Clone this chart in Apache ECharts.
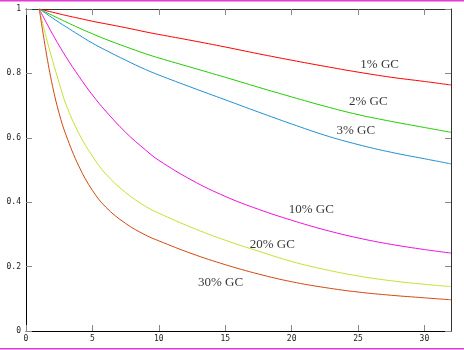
<!DOCTYPE html>
<html>
<head>
<meta charset="utf-8">
<script src="https://cdn.jsdelivr.net/npm/echarts@6/dist/echarts.min.js"></script>
<style>
html,body{margin:0;padding:0;background:#fff;}
#chart{width:464px;height:350px;}
</style>
</head>
<body>
<div id="chart"></div>
<script>
var xs = [1, 1.5, 2, 2.5, 3, 4, 5, 6, 7.5, 9, 10, 12.5, 15, 17.5, 20, 22.5, 25, 27.5, 30, 32];
var gc1  = [1, 0.995, 0.990, 0.985, 0.980, 0.971, 0.962, 0.954, 0.942, 0.929, 0.921, 0.902, 0.882, 0.861, 0.841, 0.822, 0.804, 0.788, 0.775, 0.764];
var gc2  = [1, 0.990, 0.980, 0.970, 0.960, 0.941, 0.923, 0.906, 0.883, 0.861, 0.848, 0.818, 0.788, 0.757, 0.727, 0.698, 0.672, 0.651, 0.632, 0.617];
var gc3  = [1, 0.986, 0.972, 0.958, 0.945, 0.919, 0.894, 0.872, 0.841, 0.812, 0.795, 0.756, 0.718, 0.680, 0.643, 0.608, 0.579, 0.555, 0.535, 0.519];
var gc10 = [1, 0.960, 0.922, 0.886, 0.852, 0.790, 0.733, 0.683, 0.617, 0.562, 0.530, 0.468, 0.418, 0.378, 0.344, 0.314, 0.289, 0.269, 0.253, 0.242];
var gc20 = [1, 0.915, 0.840, 0.770, 0.705, 0.612, 0.543, 0.488, 0.430, 0.387, 0.366, 0.321, 0.282, 0.248, 0.216, 0.191, 0.171, 0.156, 0.145, 0.138];
var gc30 = [1, 0.870, 0.760, 0.675, 0.610, 0.510, 0.437, 0.385, 0.334, 0.298, 0.280, 0.240, 0.206, 0.177, 0.153, 0.135, 0.121, 0.111, 0.103, 0.097];

var seriesNames = ['1% GC', '2% GC', '3% GC', '10% GC', '20% GC', '30% GC'];
var seriesValues = [gc1, gc2, gc3, gc10, gc20, gc30];
var seriesColors = ['#ff0000', '#22cc00', '#2090d0', '#ee10dd', '#ccdd33', '#d04a10'];
var labelX = [26.63, 25.77, 24.83, 21.48, 18.54, 14.65];
var labelY = [0.827, 0.712, 0.621, 0.378, 0.267, 0.149];

var xTicks = [0, 5, 10, 15, 20, 25, 30];
var yTicks = [0, 0.2, 0.4, 0.6, 0.8, 1];

var chart = echarts.init(document.getElementById('chart'), null, {renderer: 'canvas'});

function axisCommon(isX, pos, showLabel) {
  return {
    type: 'value',
    position: pos,
    min: 0,
    max: isX ? 32 : 1,
    interval: isX ? 5 : 0.2,
    splitLine: {show: false},
    axisLine: {show: true, onZero: false, lineStyle: {color: (pos === 'top' || pos === 'right') ? '#333' : '#000', width: 1}},
    axisTick: {show: true, inside: true, length: 6, lineStyle: {color: '#888', width: 1},
      customValues: isX ? xTicks : yTicks},
    axisLabel: {show: showLabel, margin: isX ? 4 : 5,
      customValues: isX ? xTicks : yTicks,
      fontFamily: 'DejaVu Sans Mono', fontSize: 8, color: '#222',
      formatter: function (v) {
        if (isX) return String(v);
        if (v === 0) return '0';
        if (v === 1) return '1';
        return v.toFixed(1);
      }}
  };
}

var series = [];
for (var i = 0; i < seriesNames.length; i++) {
  var d = [];
  for (var j = 0; j < xs.length; j++) d.push([xs[j], seriesValues[i][j]]);
  series.push({
    name: seriesNames[i], type: 'line', data: d, showSymbol: false, symbol: 'none',
    smooth: 0.4, lineStyle: {color: seriesColors[i], width: 1},
    silent: true
  });
}
var lblData = [];
for (var k = 0; k < seriesNames.length; k++) lblData.push({value: [labelX[k], labelY[k]], name: seriesNames[k]});
series.push({
  type: 'scatter', data: lblData, symbolSize: 0, silent: true,
  label: {show: true, position: 'inside', formatter: function (p) { return p.name; },
    fontFamily: 'Liberation Serif', fontSize: 13, color: '#000'}
});

chart.setOption({
  animation: false,
  backgroundColor: '#fff',
  grid: {left: 26, right: 13, top: 9, bottom: 19, containLabel: false},
  xAxis: [axisCommon(true, 'bottom', true), axisCommon(true, 'top', false)],
  yAxis: [axisCommon(false, 'left', true), axisCommon(false, 'right', false)],
  series: series,
  graphic: [
    {type: 'rect', shape: {x: 0, y: 0, width: 464, height: 1.5}, style: {fill: '#e43ad6'}, silent: true},
    {type: 'rect', shape: {x: 0, y: 348, width: 464, height: 1.5}, style: {fill: '#e43ad6'}, silent: true}
  ]
});
</script>
</body>
</html>
